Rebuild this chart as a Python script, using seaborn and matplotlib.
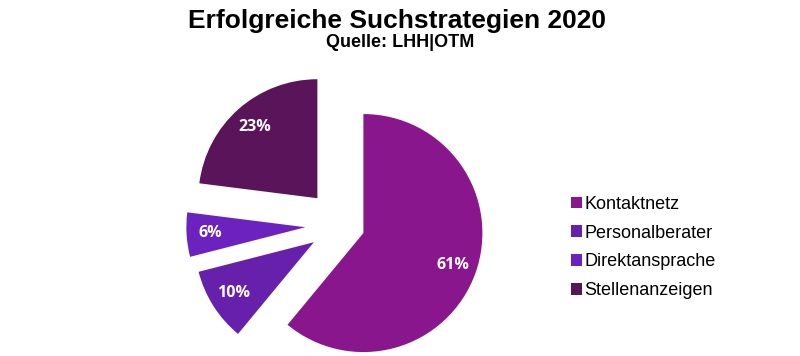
import seaborn as sns
import matplotlib
matplotlib.use("Agg")
import matplotlib.pyplot as plt
from matplotlib.patches import Patch

# Data
strategien = ["Kontaktnetz", "Personalberater", "Direktansprache", "Stellenanzeigen"]
anteile = [61, 10, 6, 23]
farben = ["#8a168e", "#6620ac", "#6b22bf", "#5a1459"]
explode = [0.2, 0.27, 0.3, 0.3]

sns.set_theme(style="white")
plt.rcParams['font.family'] = ['Liberation Sans', 'DejaVu Sans']
plt.rcParams['text.color'] = 'black'

fig = plt.figure(figsize=(8, 3.56), dpi=100)
ax = fig.add_axes([0, 0, 1, 1])

# Pie (radius 1 = 119 px, centre at 341/224 px)
wedges, texts, autotexts = ax.pie(
    anteile,
    colors=farben,
    explode=explode,
    startangle=90,
    counterclock=False,
    autopct=lambda p: f"{p:.0f}%",
    pctdistance=0.8,
    textprops=dict(color="white", fontsize=11.5, fontweight="bold", family=["Open Sans", "DejaVu Sans"]),
    wedgeprops=dict(linewidth=0),
)
ax.set_xlim(-341 / 119, (800 - 341) / 119)
ax.set_ylim(-131 / 119, (356 - 131) / 119)
ax.set_aspect("equal")
ax.axis("off")

# Title
fig.text(0.496, 1 - 28 / 356, "Erfolgreiche Suchstrategien 2020", ha="center", va="baseline",
         fontsize=19, fontweight="bold", color="black")
fig.text(0.5, 1 - 47 / 356, "Quelle: LHH|OTM", ha="center", va="baseline",
         fontsize=13, fontweight="bold", color="black")

# Legend
handles = [Patch(facecolor=c, edgecolor="none") for c in farben]
fig.legend(handles, strategien, loc="center left", bbox_to_anchor=(571 / 800, 1 - 247.5 / 356),
           frameon=False, fontsize=13, handlelength=0.6, handleheight=0.6,
           handletextpad=0.15, labelspacing=0.66, borderpad=0, borderaxespad=0,
           labelcolor="black")

fig.savefig("out.png", dpi=100, facecolor="white")
